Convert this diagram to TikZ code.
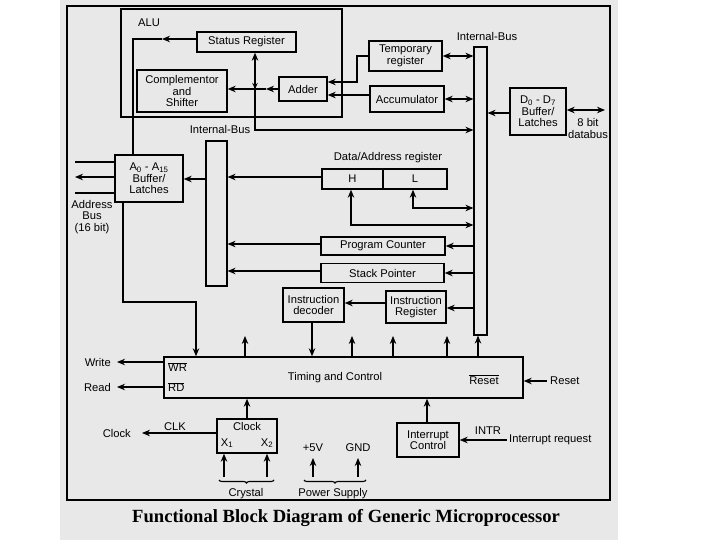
\documentclass[tikz,border=0pt]{standalone}
\usepackage{fontspec}
\setmainfont{Liberation Sans}
\newfontfamily\capfont{Liberation Serif}
\usetikzlibrary{arrows.meta,decorations.pathreplacing}
\begin{document}
\begin{tikzpicture}[x=1pt,y=-1pt,
  every node/.style={font=\fontsize{11.2}{11.6}\selectfont},
  blk/.style={draw, line width=1.4pt, align=center, inner sep=0pt, anchor=center},
  ln/.style={line width=1.1pt},
  arr/.style={ln, -{Stealth[length=8pt,width=6.5pt]}},
  darr/.style={ln, {Stealth[length=8pt,width=6.5pt]}-{Stealth[length=8pt,width=6.5pt]}},
  brc/.style={ln, decorate, decoration={brace, mirror, amplitude=3pt}},
  txt/.style={inner sep=0pt, align=center}
]
\useasboundingbox (0,0) rectangle (720,540);
\fill[black!9] (60,0) rectangle (618,540);
\draw[line width=1.6pt] (67,6) rectangle (610,500);

% ALU
\node[blk, minimum width=221pt, minimum height=108pt] (alu) at (231.5,63) {};
\node[txt, anchor=west] (alut) at (138,23) {ALU};
\node[blk, minimum width=99pt, minimum height=20pt] (status) at (246.5,42) {Status Register};
\node[blk, minimum width=90pt, minimum height=42pt] (comp) at (182,91) {Complementor\\and\\Shifter};
\node[blk, minimum width=48pt, minimum height=24pt] (adder) at (303,89) {Adder};
\node[blk, minimum width=73pt, minimum height=30pt] (temp) at (405.5,56) {Temporary\\register};
\node[blk, minimum width=74pt, minimum height=26pt] (acc) at (407,99) {Accumulator};
\node[blk, line width=1.2pt, minimum width=13pt, minimum height=288pt] (bus) at (480.5,191) {};
\node[txt] (busl) at (487,36) {Internal-Bus};
\node[blk, minimum width=56pt, minimum height=47pt] (dbuf) at (538,111.5) {D\textsubscript{0} - D\textsubscript{7}\\Buffer/\\Latches};
\node[txt] (dbl) at (588,122) {8 bit};
\node[txt] (dbl2) at (588,134) {databus};

\node[blk, line width=1.2pt, minimum width=21pt, minimum height=145pt] (lbus) at (216.5,213.5) {};
\node[txt] (lbusl) at (220,129) {Internal-Bus};
\node[blk, minimum width=68pt, minimum height=47pt] (abuf) at (149,178.5) {A\textsubscript{0} - A\textsubscript{15}\\Buffer/\\Latches};
\node[txt] (abl) at (92,217) {Address\\Bus\\(16 bit)};

\node[txt] (darl) at (388,158) {Data/Address register};
\node[blk, minimum width=61pt, minimum height=20pt] (regH) at (352.5,179) {H};
\node[blk, minimum width=64pt, minimum height=20pt] (regL) at (415,179) {L};
\node[blk, minimum width=124pt, minimum height=18pt] (pc) at (383,246) {Program Counter};
\node[blk, minimum width=123pt, minimum height=19pt] (sp) at (382.5,273) {Stack Pointer};
\node[blk, minimum width=60pt, minimum height=32pt] (ir) at (416,307) {Instruction\\Register};
\node[blk, minimum width=61pt, minimum height=34pt] (dec) at (313.5,305) {Instruction\\decoder};

\node[blk, minimum width=359pt, minimum height=41pt] (tc) at (343.5,377.5) {};
\node[txt] (tct) at (335,378) {Timing and Control};
\node[txt, anchor=west] (wr) at (168,367) {$\overline{\mbox{WR}}$};
\node[txt, anchor=west] (rd) at (168,387) {$\overline{\mbox{RD}}$};
\node[txt] (rst) at (484,380) {$\overline{\mbox{Reset}}$};

\node[blk, minimum width=60pt, minimum height=34pt] (clk) at (247,436) {};
\node[txt] (clkt) at (247,426) {Clock};
\node[txt] (x1) at (227,443) {X\textsubscript{1}};
\node[txt] (x2) at (267,443) {X\textsubscript{2}};
\node[blk, minimum width=62pt, minimum height=34pt] (intc) at (428,440) {Interrupt\\Control};

\node[txt, anchor=east] (write) at (111,362) {Write};
\node[txt, anchor=east] (read) at (111,387) {Read};
\node[txt, anchor=east] (clock) at (131,433) {Clock};
\node[txt] (clkl) at (175,427) {CLK};
\node[txt] (p5) at (313,448) {+5V};
\node[txt] (gnd) at (358,448) {GND};
\node[txt] (cry) at (246,494) {Crystal};
\node[txt] (pwr) at (333,494) {Power Supply};
\node[txt] (intr) at (488,431) {INTR};
\node[txt, anchor=west] (irq) at (509,440) {Interrupt request};
\node[txt, anchor=west] (rstin) at (550,381) {Reset};

\node[txt, font=\capfont\bfseries\fontsize{18.6}{20}\selectfont] (cap) at (346,518) {Functional Block Diagram of Generic Microprocessor};

% coordinates
\coordinate (j) at (255,89);
\coordinate (sm) at (162,39);
\coordinate (d5) at (605,110);
\coordinate (a1) at (75,162);
\coordinate (a2) at (75,177);
\coordinate (a3) at (75,193);
\coordinate (ct) at (142,433);
\coordinate (wt) at (117,362);
\coordinate (rt) at (117,387);
\coordinate (ireq) at (507,440);
\coordinate (rsin) at (547,381);

% ALU connections
\draw[arr] (status.west |- sm) -- (sm);
\draw[ln] (sm) -- (133,39) -- (abuf.north -| 133,0);
\draw[arr] (adder.west) -- (266,89);
\draw[ln] (266,89) -- (j);
\draw[arr] (j) -- (comp.east |- j);
\draw[arr] (j) -- (status.south -| j);
\draw[arr] (j) -- (255,130) -- (bus.west |- 0,130);
\draw[ln, -{Stealth[length=6pt,width=5.5pt]}] (255,80) -- (j);
\draw[arr] (temp.west) -- (357,56) -- (357,82) -- (adder.east |- 0,82);
\draw[arr] (acc.west |- 0,95) -- (adder.east |- 0,95);
\draw[darr] (temp.east) -- (bus.west |- temp.east);
\draw[darr] (acc.east) -- (bus.west |- acc.east);
\draw[arr] (dbuf.west |- 0,113) -- (bus.east |- 0,113);
\draw[darr] (dbuf.east |- d5) -- (d5);

% address side
\draw[arr] (lbus.west |- 0,179) -- (abuf.east |- 0,179);
\draw[ln] (abuf.west |- a1) -- (a1);
\draw[arr] (abuf.west |- a2) -- (a2);
\draw[ln] (abuf.west |- a3) -- (a3);
\draw[arr] (regH.west |- 0,177) -- (lbus.east |- 0,177);
\draw[darr] (regH.south -| 351,0) -- (351,225) -- (bus.west |- 0,225);
\draw[darr] (regL.south -| 413,0) -- (413,208) -- (bus.west |- 0,208);
\draw[arr] (bus.west |- pc.east) -- (pc.east);
\draw[arr] (pc.west |- 0,244) -- (lbus.east |- 0,244);
\draw[arr] (bus.west |- sp.east) -- (sp.east);
\draw[arr] (sp.west |- 0,271) -- (lbus.east |- 0,271);
\draw[arr] (bus.west |- 0,308) -- (ir.east |- 0,308);
\draw[arr] (ir.west |- 0,303) -- (dec.east |- 0,303);
\draw[arr] (dec.south -| 312,0) -- (tc.north -| 312,0);
\draw[arr] (abuf.south -| 123,0) -- (123,302) -- (196,302) -- (tc.north -| 196,0);

% up arrows from timing and control
\foreach \xx/\nm in {245/u1,352/u2,393/u3,447/u4} {
  \coordinate (\nm) at (\xx,336);
  \draw[arr] (tc.north -| \nm) -- (\nm);
}
\draw[arr] (tc.north -| 478,0) -- (bus.south -| 478,0);

% control outputs
\draw[arr] (tc.west |- wt) -- (wt);
\draw[arr] (tc.west |- rt) -- (rt);
\draw[arr] (clk.north) -- (tc.south -| clk.north);
\draw[arr] (clk.west |- ct) -- (ct);
\draw[arr] (intc.north -| 427,0) -- (tc.south -| 427,0);
\draw[arr] (ireq) -- (intc.east |- ireq);
\draw[arr] (rsin) -- (tc.east |- rsin);

% crystal and power
\coordinate (c1) at (224,477);
\coordinate (c2) at (267,477);
\coordinate (c3) at (313,477);
\coordinate (c4) at (358,477);
\draw[arr] (c1) -- (clk.south -| c1);
\draw[arr] (c2) -- (clk.south -| c2);
\draw[arr] (c3) -- (313,458);
\draw[arr] (c4) -- (358,458);
\draw[brc] (219,480) -- (274,480);
\draw[brc] (304,480) -- (366,480);
\end{tikzpicture}
\end{document}
